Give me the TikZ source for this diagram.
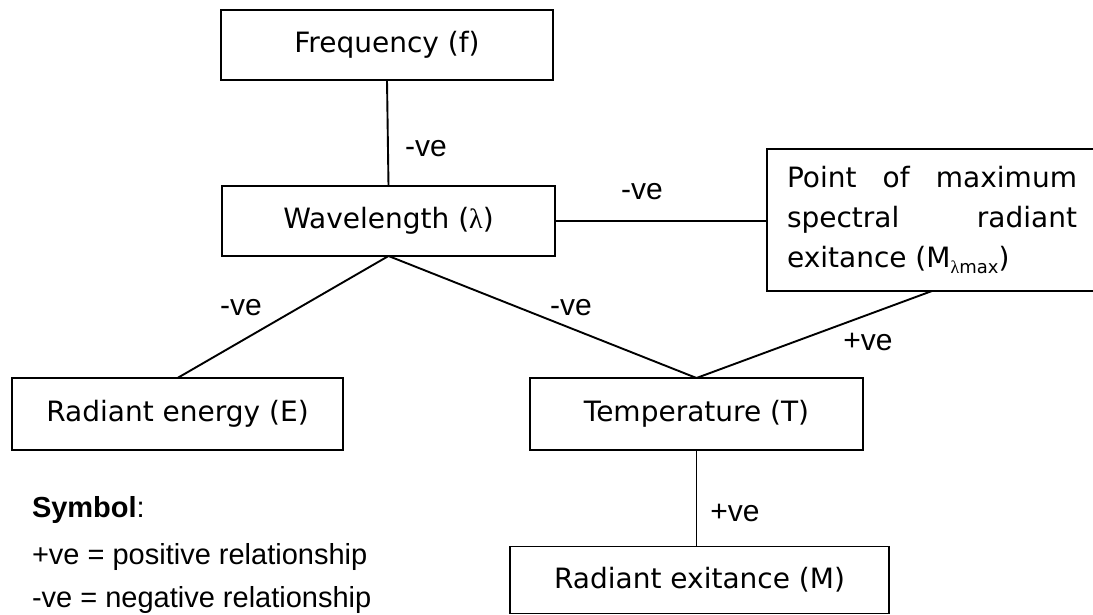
\documentclass[tikz,border=0pt]{standalone}
\usepackage{fontspec}
\setmainfont{DejaVu Sans}
\newfontfamily\labelfont{Liberation Sans}
\newfontfamily\greekfont{Liberation Serif}
\newcommand{\lam}{{\greekfont λ}}
\begin{document}
\begin{tikzpicture}[x=1pt,y=-1pt,
  every node/.style={inner sep=0pt, outer sep=0pt},
  qbox/.style={draw, line width=1.9pt, minimum width=#1, font=\fontsize{28}{40}\selectfont},
  rel/.style={font=\labelfont\fontsize{30}{34}\selectfont},
  legend/.style={anchor=west, font=\labelfont\fontsize{29}{34}\selectfont},
  link/.style={line width=1.9pt}]
\useasboundingbox (0,0) rectangle (1093,615);

% quantity boxes
\node[qbox=332pt, minimum height=70pt] (freq) at (387,45) {Frequency (f)};
\node[qbox=333pt, minimum height=70pt] (wave) at (388.5,221) {Wavelength (\lam)};
\node[qbox=330pt, minimum height=142pt, align=left] (point) at (932,220)
  {\makebox[290pt][s]{Point of maximum}\\
   \makebox[290pt][s]{spectral radiant}\\
   exitance (M\raisebox{-0.22em}{\fontsize{18}{18}\selectfont\lam max})};
\node[qbox=331pt, minimum height=72pt] (energy) at (177.5,414) {Radiant energy (E)};
\node[qbox=333pt, minimum height=72pt] (temp) at (696.5,414) {Temperature (T)};
\node[qbox=379pt, minimum height=67pt] (exit) at (699.5,580) {Radiant exitance (M)};

% relationships
\draw[link] (freq.south) -- (wave.north);
\draw[link] (wave.east) -- (wave.east -| point.west);
\draw[link] (wave.south) -- (energy.north);
\draw[link] (wave.south) -- (temp.north);
\draw[link] (point.south) -- (temp.north);
\draw[link] (temp.south) -- (temp.south |- exit.north);

% relationship signs
\node[rel] (r1) at (426,149) {-ve};
\node[rel] (r2) at (642,192) {-ve};
\node[rel] (r3) at (241,308) {-ve};
\node[rel] (r4) at (571,308) {-ve};
\node[rel] (r5) at (868,342) {+ve};
\node[rel] (r6) at (735,513) {+ve};

% key
\node[legend] (k0) at (32,510) {\textbf{Symbol}:};
\node[legend] (k1) at (32,557) {+ve = positive relationship};
\node[legend] (k2) at (32,600) {-ve = negative relationship};
\end{tikzpicture}
\end{document}
